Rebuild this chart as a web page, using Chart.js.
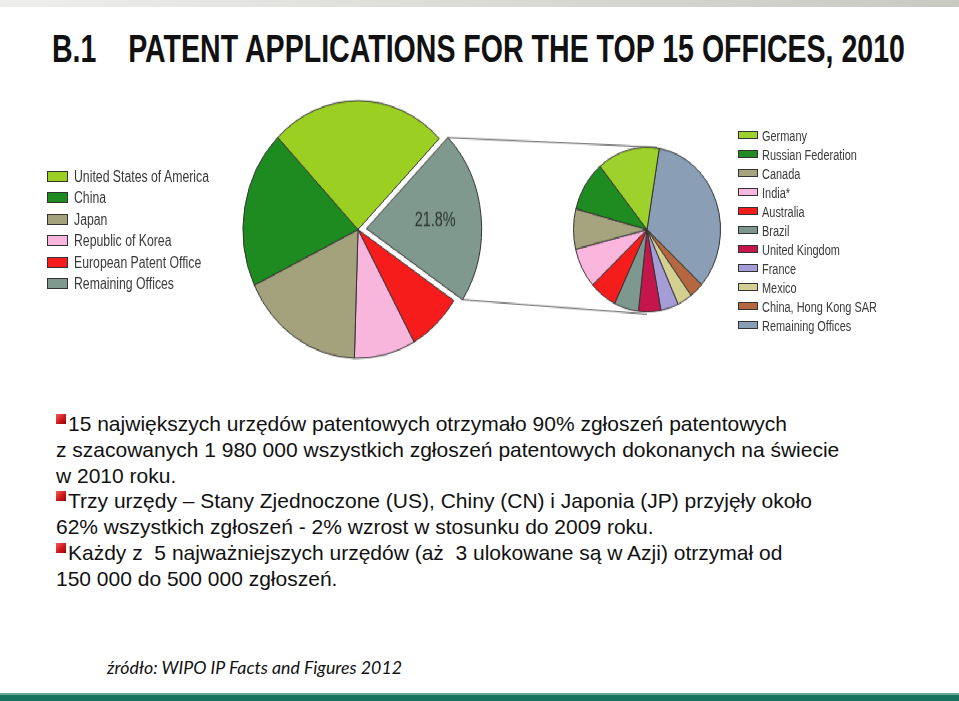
<!DOCTYPE html>
<html>
<head>
<meta charset="utf-8">
<script src="https://cdn.jsdelivr.net/npm/chart.js@4"></script>
<style>
body { margin: 0; width: 959px; height: 701px; overflow: hidden; background: #fff; position: relative; font-family: "Liberation Sans", Arial, sans-serif; }
#topband { position: absolute; left: 0; top: 0; width: 959px; height: 7px; background: linear-gradient(to right, #eeeeeb, #c8c9c1); }
#title { position: absolute; left: 52px; top: 30px; font-weight: bold; font-size: 38px; line-height: 38px; white-space: nowrap; color: #111; display: inline-block; transform-origin: 0 0; }
#wrap { position: absolute; left: 0; top: 84.4px; width: 959px; height: 260px; transform: scaleY(1.12); transform-origin: 0 0; }
#pieA { position: absolute; left: 228px; top: 0; }
#pieB { position: absolute; left: 567px; top: 50px; }
.legend { position: absolute; color: #3a3a3a; }
.legend .row { position: relative; white-space: nowrap; }
.legend .box { position: absolute; left: 0; border: 1px solid #333; box-sizing: border-box; }
.legend .txt { position: absolute; display: inline-block; transform-origin: 0 50%; }
#legA { left: 47px; top: 166px; font-size: 16px; }
#legA .row { height: 21.4px; }
#legA .box { width: 21px; height: 11px; top: 5px; }
#legA .txt { left: 27px; top: 0; line-height: 21px; }
#legB { left: 738px; top: 125.5px; font-size: 15.5px; }
#legB .row { height: 19px; }
#legB .box { width: 20px; height: 8px; top: 5.5px; }
#legB .txt { left: 24px; top: 0; line-height: 19px; }
#notes { position: absolute; left: 56px; top: 411px; font-size: 21px; line-height: 25.8px; color: #111; white-space: nowrap; }
.b { display: inline-block; width: 10px; height: 10px; margin-right: 2px; vertical-align: 7px; background: linear-gradient(135deg, #f26060, #d01818 55%, #8a0808); }
#src { position: absolute; left: 107px; top: 656px; font-family: Lato, "Open Sans", sans-serif; font-style: italic; font-size: 17px; line-height: 24px; white-space: nowrap; color: #111; display: inline-block; transform-origin: 0 0; }
#botline { position: absolute; left: 0; top: 693px; width: 959px; height: 2px; background: #6aa596; }
#botbar { position: absolute; left: 0; top: 695px; width: 959px; height: 6px; background: #17735f; }
</style>
</head>
<body>
<div id="topband"></div>
<div id="title">B.1&nbsp;&nbsp;&nbsp; PATENT APPLICATIONS FOR THE TOP 15 OFFICES, 2010</div>

<div id="wrap">
  <canvas id="pieA" width="500" height="260"></canvas>
  <canvas id="pieB" width="160" height="160"></canvas>
</div>
<div id="legA" class="legend"></div>
<div id="legB" class="legend"></div>

<div id="notes">
<span class="b"></span>15 największych urzędów patentowych otrzymało 90% zgłoszeń patentowych<br>
z szacowanych 1 980 000 wszystkich zgłoszeń patentowych dokonanych na świecie<br>
w 2010 roku.<br>
<span class="b"></span>Trzy urzędy – Stany Zjednoczone (US), Chiny (CN) i Japonia (JP) przyjęły około<br>
62% wszystkich zgłoszeń - 2% wzrost w stosunku do 2009 roku.<br>
<span class="b"></span>Każdy z&nbsp; 5 najważniejszych urzędów (aż&nbsp; 3 ulokowane są w Azji) otrzymał od<br>
150 000 do 500 000 zgłoszeń.
</div>

<div id="src">źródło: WIPO IP Facts and Figures 2012</div>
<div id="botline"></div>
<div id="botbar"></div>

<script>
// top 5 offices + the rest, share of all applications (%)
var mainLabels = ['United States of America', 'China', 'Japan', 'Republic of Korea', 'European Patent Office', 'Remaining Offices'];
var mainShares = [24.8, 19.8, 17.4, 8.6, 7.6, 21.8];
var mainColors = ['#9bcf22', '#1e8b20', '#a4a27c', '#f9b6dc', '#f61c1c', '#7f998f'];

// breakdown of the remaining offices (% of that slice)
var restLabels = ['Germany', 'Russian Federation', 'Canada', 'India*', 'Australia', 'Brazil', 'United Kingdom', 'France', 'Mexico', 'China, Hong Kong SAR', 'Remaining Offices'];
var restShares = [13.7, 9.9, 7.9, 7.9, 6.0, 5.4, 4.9, 3.9, 3.3, 3.1, 34.0];
var restColors = ['#9ed12b', '#1e8c20', '#a5a47e', '#fab6dd', '#f51c1c', '#7d988e', '#c5164b', '#a49dd8', '#d3d091', '#b5683f', '#8a9fb5'];

function fitWidth(el, w)
{
    var nat = el.getBoundingClientRect().width;
    el.style.transform = 'scaleX(' + (w / nat) + ')';
}

// legend rows; text squeezed so that entry `ref` gets width `refWidth`
function buildLegend(id, labels, colors, ref, refWidth)
{
    var box = document.getElementById(id);
    var spans = [];
    labels.forEach(function (l, i)
    {
        var row = document.createElement('div');
        row.className = 'row';
        row.innerHTML = '<span class="box" style="background:' + colors[i] + '"></span><span class="txt"></span>';
        row.lastChild.textContent = l;
        box.appendChild(row);
        spans.push(row.lastChild);
    });
    var s = refWidth / spans[ref].getBoundingClientRect().width;
    spans.forEach(function (sp) { sp.style.transform = 'scaleX(' + s + ')'; });
}

buildLegend('legA', mainLabels, mainColors, 0, 135);
buildLegend('legB', restLabels, restColors, 9, 115);
fitWidth(document.getElementById('title'), 853);
fitWidth(document.getElementById('src'), 295);

// pies run counter-clockwise in the picture, Chart.js draws clockwise: feed reversed
function rev(a) { return a.slice().reverse(); }

var restChart = new Chart(document.getElementById('pieB'),
{
    type: 'pie',
    data:
    {
        labels: rev(restLabels),
        datasets: [{ data: rev(restShares), backgroundColor: rev(restColors), borderColor: '#333', borderWidth: 1 }]
    },
    options:
    {
        responsive: false,
        animation: false,
        events: [],
        rotation: 9.6,
        radius: 73.5,
        plugins: { legend: { display: false }, tooltip: { enabled: false } }
    }
});

var canvasA = document.getElementById('pieA');
var canvasB = document.getElementById('pieB');

var connector =
{
    id: 'connector',
    afterDatasetsDraw: function (chart)
    {
        var ctx = chart.ctx;
        var meta = chart.getDatasetMeta(0);
        var i = chart.data.labels.indexOf('Remaining Offices');
        var arc = meta.data[i];
        var shift = (arc.options.offset || 0) / 4;
        var mid = (arc.startAngle + arc.endAngle) / 2;
        var ox = arc.x + Math.cos(mid) * shift;
        var oy = arc.y + Math.sin(mid) * shift;
        var r = arc.outerRadius;

        var b = restChart.getDatasetMeta(0).data[0];
        var dx = canvasB.offsetLeft - canvasA.offsetLeft;
        var dy = canvasB.offsetTop - canvasA.offsetTop;

        ctx.save();
        ctx.strokeStyle = '#555';
        ctx.lineWidth = 1;
        ctx.beginPath();
        ctx.moveTo(ox + Math.cos(arc.startAngle) * r, oy + Math.sin(arc.startAngle) * r);
        ctx.lineTo(b.x + dx + 10, b.y + dy - b.outerRadius);
        ctx.moveTo(ox + Math.cos(arc.endAngle) * r, oy + Math.sin(arc.endAngle) * r);
        ctx.lineTo(b.x + dx, b.y + dy + b.outerRadius + 2);
        ctx.stroke();

        // value label inside the pulled-out slice
        var val = chart.data.datasets[0].data[i];
        ctx.translate(ox + Math.cos(mid) * r * 0.6, oy + Math.sin(mid) * r * 0.6);
        ctx.scale(0.76, 1);
        ctx.fillStyle = '#2b3431';
        ctx.font = '19px "Liberation Sans", Arial, sans-serif';
        ctx.textAlign = 'center';
        ctx.textBaseline = 'middle';
        ctx.fillText(val.toFixed(1) + '%', 0, 0);
        ctx.restore();
    }
};

var mainChart = new Chart(canvasA,
{
    type: 'pie',
    data:
    {
        labels: rev(mainLabels),
        datasets: [{
            data: rev(mainShares),
            backgroundColor: rev(mainColors),
            borderColor: '#333',
            borderWidth: 1,
            offset: rev(mainLabels).map(function (l) { return l === 'Remaining Offices' ? 34 : 0; })
        }]
    },
    options:
    {
        responsive: false,
        animation: false,
        events: [],
        rotation: 45,
        radius: 115,
        layout: { padding: { right: 240 } },
        plugins: { legend: { display: false }, tooltip: { enabled: false } }
    },
    plugins: [connector]
});
</script>
</body>
</html>
